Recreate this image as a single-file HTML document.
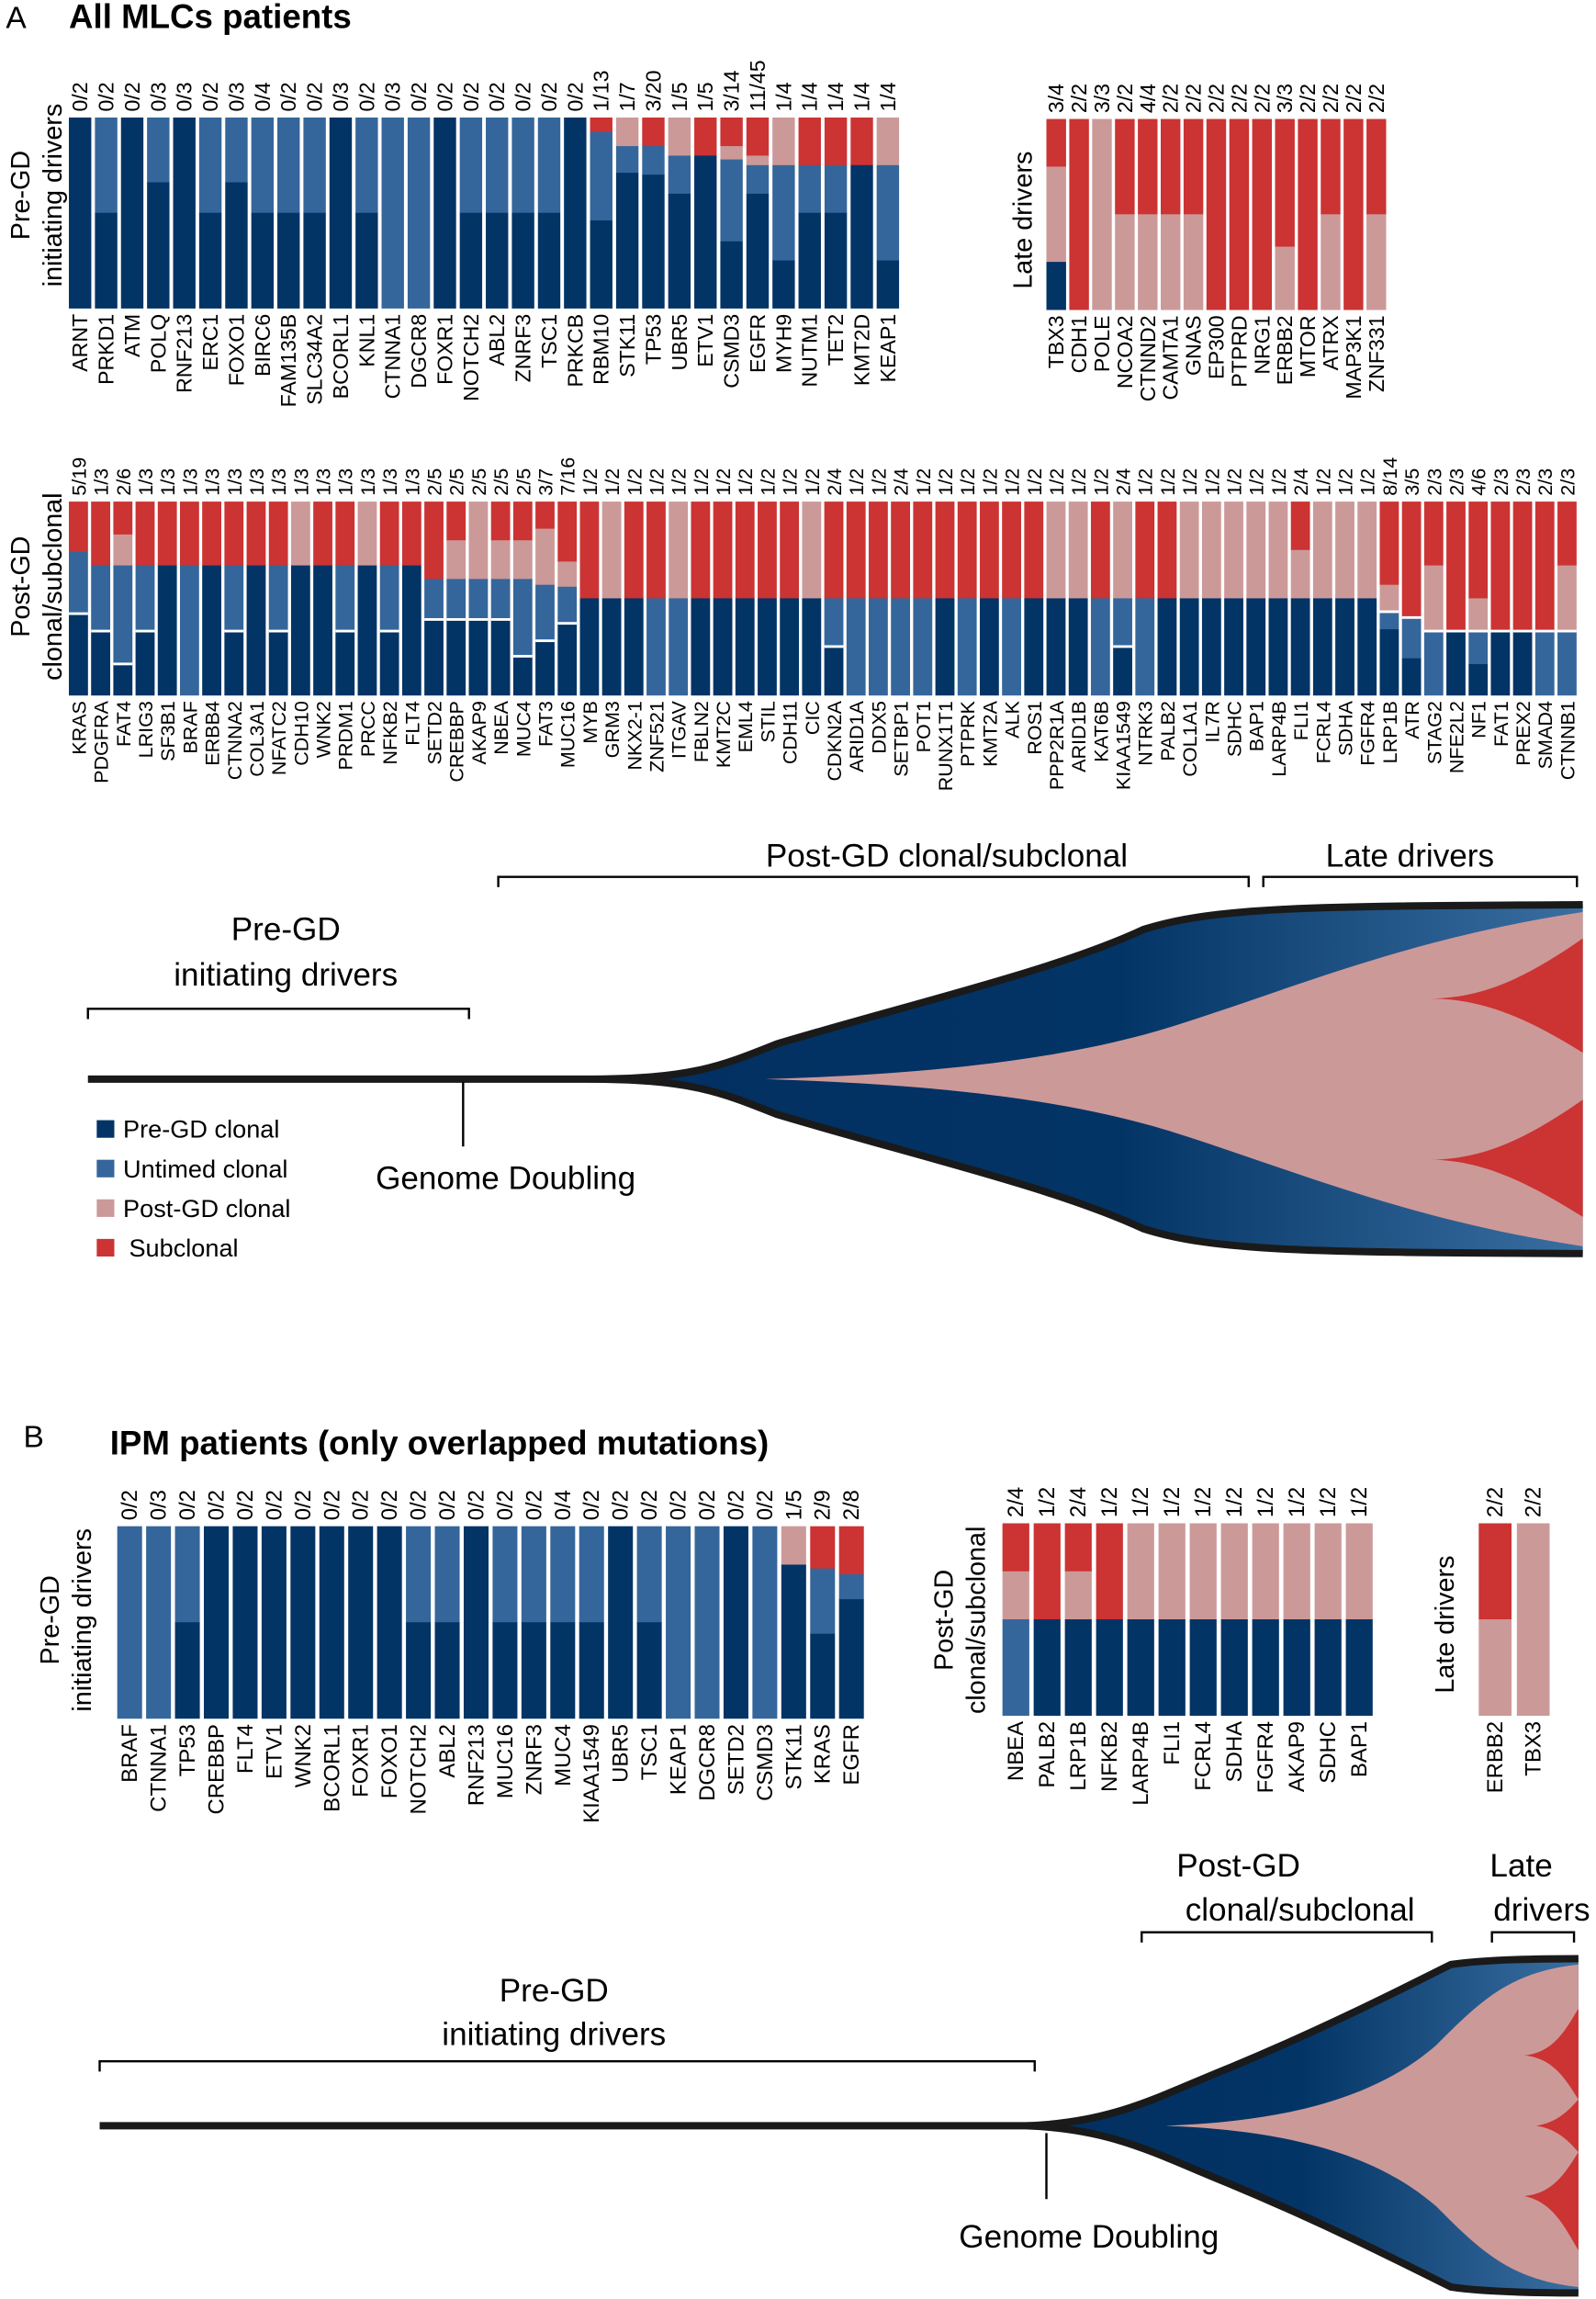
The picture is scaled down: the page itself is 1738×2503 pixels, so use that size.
<!DOCTYPE html>
<html><head><meta charset="utf-8"><style>
html,body{margin:0;padding:0;background:#fff}
svg{display:block}
text{font-family:"Liberation Sans",Arial,sans-serif;fill:#000}
</style></head><body>
<svg id="s" xmlns="http://www.w3.org/2000/svg" width="1738" height="2503" viewBox="0 0 1089 1568">
<defs>
<linearGradient id="gA" x1="380" y1="0" x2="1078" y2="0" gradientUnits="userSpaceOnUse">
<stop offset="0" stop-color="#022f60"/><stop offset="0.55" stop-color="#033466"/><stop offset="1" stop-color="#3a6ea0"/></linearGradient>
<linearGradient id="gB" x1="700" y1="0" x2="1075" y2="0" gradientUnits="userSpaceOnUse">
<stop offset="0" stop-color="#022f60"/><stop offset="0.5" stop-color="#033466"/><stop offset="1" stop-color="#3a6ea0"/></linearGradient>
</defs>
<text x="4" y="19" font-size="21">A</text>
<text x="47" y="19" font-size="23" font-weight="bold">All MLCs patients</text>
<text x="16" y="987" font-size="21">B</text>
<text x="75" y="992" font-size="23" font-weight="bold">IPM patients (only overlapped mutations)</text>

<g font-size="18">
<text transform="translate(20,133) rotate(-90)" text-anchor="middle">Pre-GD</text>
<text transform="translate(42,133) rotate(-90)" text-anchor="middle">initiating drivers</text>
<text transform="translate(704,150) rotate(-90)" text-anchor="middle">Late drivers</text>
<text transform="translate(20,400) rotate(-90)" text-anchor="middle">Post-GD</text>
<text transform="translate(42,400) rotate(-90)" text-anchor="middle">clonal/subclonal</text>
<text transform="translate(40,1105) rotate(-90)" text-anchor="middle">Pre-GD</text>
<text transform="translate(62,1105) rotate(-90)" text-anchor="middle">initiating drivers</text>
<text transform="translate(650,1105) rotate(-90)" text-anchor="middle">Post-GD</text>
<text transform="translate(672,1105) rotate(-90)" text-anchor="middle">clonal/subclonal</text>
<text transform="translate(992,1108) rotate(-90)" text-anchor="middle">Late drivers</text>
</g>

<!-- Fish A -->
<g>
<path d="M60,736 L400,736 C470,736 490,728 530,712 C620,685 720,662 780,634 C830,618 900,618 1080,617 L1080,855 C900,854 830,854 780,838 C720,810 620,787 530,760 C490,744 470,736 400,736 Z" fill="url(#gA)"/>
<path d="M522,736 C620,733 720,725 800,700 C880,675 960,640 1080,622 L1080,850 C960,832 880,797 800,772 C720,747 620,739 522,736 Z" fill="#cc9999"/>
<path d="M975,681 C1010,681 1040,668 1080,640 L1080,718 C1040,693 1010,681 975,681 Z" fill="#cc3333"/>
<path d="M975,791 C1010,791 1040,778 1080,750 L1080,830 C1040,805 1010,791 975,791 Z" fill="#cc3333"/>
<path d="M60,736 L400,736 C470,736 490,728 530,712 C620,685 720,662 780,634 C830,618 900,618 1080,617 M400,736 C470,736 490,744 530,760 C620,787 720,810 780,838 C830,854 900,854 1080,855" fill="none" stroke="#1a1a1a" stroke-width="5"/>
<line x1="316" y1="738" x2="316" y2="782" stroke="#000" stroke-width="1.5"/>
</g>
<g font-size="22">
<text x="195" y="641" text-anchor="middle">Pre-GD</text>
<text x="195" y="672" text-anchor="middle">initiating drivers</text>
<text x="646" y="591" text-anchor="middle">Post-GD clonal/subclonal</text>
<text x="962" y="591" text-anchor="middle">Late drivers</text>
<text x="345" y="811" text-anchor="middle">Genome Doubling</text>
</g>
<g fill="none" stroke="#000" stroke-width="1.5">
<path d="M60,695 V688 H320 V695"/>
<path d="M340,605 V598 H852 V605"/>
<path d="M862,605 V598 H1076 V605"/>
<path d="M68,1413 V1406 H706 V1413"/>
<path d="M779,1325 V1318 H977 V1325"/>
<path d="M1018,1325 V1318 H1074 V1325"/>
</g>
<g font-size="17">
<rect x="66" y="764" width="12" height="12" fill="#033466"/><text x="84" y="776">Pre-GD clonal</text>
<rect x="66" y="791" width="12" height="12" fill="#35669b"/><text x="84" y="803">Untimed clonal</text>
<rect x="66" y="818" width="12" height="12" fill="#cc9999"/><text x="84" y="830">Post-GD clonal</text>
<rect x="66" y="845" width="12" height="12" fill="#cc3333"/><text x="88" y="857">Subclonal</text>
</g>

<!-- Fish B -->
<g>
<path d="M68,1450 L700,1450 C760,1448 790,1430 840,1410 C900,1385 950,1360 990,1340 C1010,1337 1040,1336 1077,1336 L1077,1564 C1040,1564 1010,1563 990,1560 C950,1540 900,1515 840,1490 C790,1470 760,1452 700,1450 Z" fill="url(#gB)"/>
<path d="M795,1450 C880,1447 940,1430 980,1395 C1010,1365 1030,1345 1077,1340 L1077,1560 C1030,1555 1010,1535 980,1505 C940,1470 880,1453 795,1450 Z" fill="#cc9999"/>
<path d="M1040,1402 C1060,1400 1068,1385 1077,1370 L1077,1432 C1068,1418 1060,1404 1040,1402 Z" fill="#cc3333"/>
<path d="M1048,1450 C1062,1448 1070,1440 1077,1432 L1077,1468 C1070,1460 1062,1452 1048,1450 Z" fill="#cc3333"/>
<path d="M1040,1498 C1060,1496 1068,1482 1077,1468 L1077,1535 C1068,1520 1060,1502 1040,1498 Z" fill="#cc3333"/>
<path d="M68,1450 L700,1450 C760,1448 790,1430 840,1410 C900,1385 950,1360 990,1340 C1010,1337 1040,1336 1077,1336 M700,1450 C760,1452 790,1470 840,1490 C900,1515 950,1540 990,1560 C1010,1563 1040,1564 1077,1564" fill="none" stroke="#1a1a1a" stroke-width="5"/>
<line x1="714" y1="1455" x2="714" y2="1500" stroke="#000" stroke-width="1.5"/>
</g>
<g font-size="22">
<text x="378" y="1365" text-anchor="middle">Pre-GD</text>
<text x="378" y="1395" text-anchor="middle">initiating drivers</text>
<text x="845" y="1280" text-anchor="middle">Post-GD</text>
<text x="887" y="1310" text-anchor="middle">clonal/subclonal</text>
<text x="1038" y="1280" text-anchor="middle">Late</text>
<text x="1052" y="1310" text-anchor="middle">drivers</text>
<text x="743" y="1533" text-anchor="middle">Genome Doubling</text>
</g>
<g id="bars"></g>
</svg>
<script>
var C={d:"#033466",m:"#35669b",p:"#cc9999",r:"#cc3333"};
var NS="http://www.w3.org/2000/svg";
var G=document.getElementById("bars");
function el(t,a,txt){var e=document.createElementNS(NS,t);for(var k in a)e.setAttribute(k,a[k]);if(txt!=null)e.textContent=txt;G.appendChild(e);return e;}
function panel(x0,pitch,top,bot,specs,fr,genes,fs){
 var h=bot-top,w=pitch*0.86;
 for(var i=0;i<specs.length;i++){
  var x=x0+i*pitch,segs=specs[i].split(" "),y=0,whites=[];
  for(var j=0;j<segs.length;j++){
   var s=segs[j],W=false;if(s[0]=="W"){W=true;s=s.slice(1);}
   var c=s[0],e=s.length>1?parseFloat(s.slice(1))/100:1;
   if(W)whites.push(y);
   el("rect",{x:x,y:top+y*h,width:w,height:(e-y)*h+0.3,fill:C[c]});
   y=e;
  }
  for(var k=0;k<whites.length;k++)el("rect",{x:x,y:top+whites[k]*h-1,width:w,height:1.8,fill:"#fff"});
  var cx=x+w/2+5;
  el("text",{transform:"translate("+cx+","+(top-4)+") rotate(-90)","font-size":fs},fr[i]);
  el("text",{transform:"translate("+cx+","+(bot+4)+") rotate(-90)","font-size":fs,"text-anchor":"end"},genes[i]);
 }
}
panel(47,17.78,80,210,
"d|m50 d|d|m34 d|d|m50 d|m34 d|m50 d|m50 d|m50 d|d|m50 d|m|m|d|m50 d|m50 d|m50 d|m50 d|d|r7.5 m54 d|p15 m29 d|r15 m30 d|p20 m40 d|r20 d|r15 p22 m65 d|r20 p25 m40 d|p25 m75 d|r25 m50 d|r25 m50 d|r25 d|p25 m75 d".split("|"),
"0/2 0/2 0/2 0/3 0/3 0/2 0/3 0/4 0/2 0/2 0/3 0/2 0/3 0/2 0/2 0/2 0/2 0/2 0/2 0/2 1/13 1/7 3/20 1/5 1/5 3/14 11/45 1/4 1/4 1/4 1/4 1/4".split(" "),
"ARNT PRKD1 ATM POLQ RNF213 ERC1 FOXO1 BIRC6 FAM135B SLC34A2 BCORL1 KNL1 CTNNA1 DGCR8 FOXR1 NOTCH2 ABL2 ZNRF3 TSC1 PRKCB RBM10 STK11 TP53 UBR5 ETV1 CSMD3 EGFR MYH9 NUTM1 TET2 KMT2D KEAP1".split(" "),14.5);
panel(714,15.6,81,211,
"r25 p75 d|r|p|r50 p|r50 p|r50 p|r50 p|r|r|r|r67 p|r|r50 p|r|r50 p".split("|"),
"3/4 2/2 3/3 2/2 4/4 2/2 2/2 2/2 2/2 2/2 3/3 2/2 2/2 2/2 2/2".split(" "),
"TBX3 CDH1 POLE NCOA2 CTNND2 CAMTA1 GNAS EP300 PTPRD NRG1 ERBB2 MTOR ATRX MAP3K1 ZNF331".split(" "),14.5);
panel(47,15.16,342,474,
("r26 m58 Wd|r33 m67 Wd|r17 p33 m84 Wd|r33 m67 Wd|r33 d|r33 m|r33 d|r33 m67 Wd|r33 d|r33 m67 Wd|p33 d|r33 d|r33 m67 Wd|p33 d|r33 m67 Wd|r33 d|"+
"r40 m61 Wd|r20 p40 m61 Wd|p40 m61 Wd|r20 p40 m61 Wd|r20 p40 m80 Wd|r14 p43 m72 Wd|r31 p44 m63 Wd|"+
"r50 d|p50 d|r50 d|r50 m|p50 m|r50 d|r50 d|r50 d|r50 d|r50 d|p50 d|r50 m75 Wd|r50 m|r50 m|r50 m|r50 m|r50 d|r50 m|r50 d|r50 m|r50 d|p50 d|p50 d|r50 m|p50 m75 Wd|r50 m|r50 d|p50 d|p50 d|p50 d|p50 d|p50 d|r25 p50 d|p50 d|p50 d|p50 d|"+
"r43 p57 Wm66 d|r60 Wm81 d|r33 p67 Wm|r67 Wd|r50 p67 Wm84 d|r67 Wd|r67 Wd|r67 Wm|r33 p67 Wm").split("|"),
"5/19 1/3 2/6 1/3 1/3 1/3 1/3 1/3 1/3 1/3 1/3 1/3 1/3 1/3 1/3 1/3 2/5 2/5 2/5 2/5 2/5 3/7 7/16 1/2 1/2 1/2 1/2 1/2 1/2 1/2 1/2 1/2 1/2 1/2 2/4 1/2 1/2 2/4 1/2 1/2 1/2 1/2 1/2 1/2 1/2 1/2 1/2 2/4 1/2 1/2 1/2 1/2 1/2 1/2 1/2 2/4 1/2 1/2 1/2 8/14 3/5 2/3 2/3 4/6 2/3 2/3 2/3 2/3".split(" "),
"KRAS PDGFRA FAT4 LRIG3 SF3B1 BRAF ERBB4 CTNNA2 COL3A1 NFATC2 CDH10 WNK2 PRDM1 PRCC NFKB2 FLT4 SETD2 CREBBP AKAP9 NBEA MUC4 FAT3 MUC16 MYB GRM3 NKX2-1 ZNF521 ITGAV FBLN2 KMT2C EML4 STIL CDH11 CIC CDKN2A ARID1A DDX5 SETBP1 POT1 RUNX1T1 PTPRK KMT2A ALK ROS1 PPP2R1A ARID1B KAT6B KIAA1549 NTRK3 PALB2 COL1A1 IL7R SDHC BAP1 LARP4B FLI1 FCRL4 SDHA FGFR4 LRP1B ATR STAG2 NFE2L2 NF1 FAT1 PREX2 SMAD4 CTNNB1".split(" "),13.5);
panel(80,19.7,1041,1172,
"m|m|m50 d|d|d|d|d|d|d|d|m50 d|m50 d|d|m50 d|m50 d|m50 d|m50 d|d|m50 d|m|m|d|m|p20 d|r22 m56 d|r25 m38 d".split("|"),
"0/2 0/3 0/2 0/2 0/2 0/2 0/2 0/2 0/2 0/2 0/2 0/2 0/2 0/2 0/2 0/4 0/2 0/2 0/2 0/2 0/2 0/2 0/2 1/5 2/9 2/8".split(" "),
"BRAF CTNNA1 TP53 CREBBP FLT4 ETV1 WNK2 BCORL1 FOXR1 FOXO1 NOTCH2 ABL2 RNF213 MUC16 ZNRF3 MUC4 KIAA1549 UBR5 TSC1 KEAP1 DGCR8 SETD2 CSMD3 STK11 KRAS EGFR".split(" "),15);
panel(684,21.3,1039,1170,
"r25 p50 m|r50 d|r25 p50 d|r50 d|p50 d|p50 d|p50 d|p50 d|p50 d|p50 d|p50 d|p50 d".split("|"),
"2/4 1/2 2/4 1/2 1/2 1/2 1/2 1/2 1/2 1/2 1/2 1/2".split(" "),
"NBEA PALB2 LRP1B NFKB2 LARP4B FLI1 FCRL4 SDHA FGFR4 AKAP9 SDHC BAP1".split(" "),15);
panel(1009,26,1039,1170,["r50 p","p"],["2/2","2/2"],["ERBB2","TBX3"],15);
</script>
</body></html>
